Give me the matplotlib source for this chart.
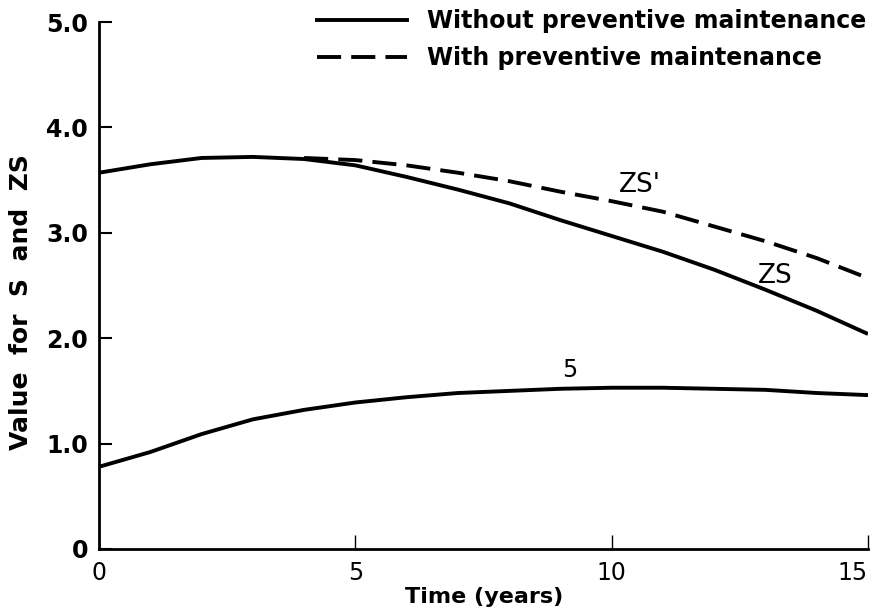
import matplotlib
matplotlib.use("Agg")
import matplotlib.pyplot as plt
from matplotlib.lines import Line2D

# Time axis (years) and the three curves
years = [0, 1, 2, 3, 4, 5, 6, 7, 8, 9, 10, 11, 12, 13, 14, 15]
zs_without = [3.57, 3.65, 3.71, 3.72, 3.70, 3.64, 3.53, 3.41, 3.28, 3.12,
              2.97, 2.82, 2.65, 2.46, 2.26, 2.04]
years_pm = [4, 5, 6, 7, 8, 9, 10, 11, 12, 13, 14, 15]
zs_with = [3.71, 3.69, 3.64, 3.57, 3.49, 3.39, 3.30, 3.20, 3.06, 2.92,
           2.76, 2.57]
s_values = [0.78, 0.92, 1.09, 1.23, 1.32, 1.39, 1.44, 1.48, 1.50, 1.52,
            1.53, 1.53, 1.52, 1.51, 1.48, 1.46]

y_ticks = [0, 1.0, 2.0, 3.0, 4.0, 5.0]
y_tick_labels = ["0", "1.0", "2.0", "3.0", "4.0", "5.0"]
x_ticks = [0, 5, 10, 15]
x_tick_labels = ["0", "5", "10", "15"]

legend_labels = ["Without preventive maintenance", "With preventive maintenance"]

W, H = 875, 612
fig = plt.figure(figsize=(W / 100, H / 100), dpi=100)
ax = fig.add_axes([99 / W, 1 - 549 / H, (868 - 99) / W, (549 - 22) / H])

lw = 2.8
dash = (0, (6.2, 2.6))
ax.plot(years, zs_without, color="black", lw=lw, solid_capstyle="butt")
ax.plot(years_pm, zs_with, color="black", lw=lw, linestyle=dash)
ax.plot(years, s_values, color="black", lw=lw, solid_capstyle="butt")

ax.set_xlim(0, 15)
ax.set_ylim(0, 5)

for side in ("top", "right"):
    ax.spines[side].set_visible(False)
for side in ("left", "bottom"):
    ax.spines[side].set_linewidth(2.0)

ax.set_yticks(y_ticks)
ax.set_yticklabels(y_tick_labels, fontsize=17, fontweight="bold")
ax.set_xticks(x_ticks)
ax.set_xticklabels(x_tick_labels, fontsize=17)
ax.get_xticklabels()[-1].set_ha("right")
ax.tick_params(axis="y", direction="in", length=9, width=1.5, pad=8)
ax.tick_params(axis="x", direction="in", length=10, width=1.0, pad=9)

# Curve labels
ax.text(10.55, 3.45, "ZS'", fontsize=19, ha="center", va="center")
ax.text(13.2, 2.59, "ZS", fontsize=19, ha="center", va="center")
ax.text(9.18, 1.70, "5", fontsize=17, ha="center", va="center")

# Axis titles
fig.text(484 / W, 1 - 597 / H, "Time (years)", fontsize=16,
         fontweight="bold", ha="center", va="center")
fig.text(21 / W, 1 - 302 / H, "Value  for  S  and  ZS", fontsize=18,
         fontweight="bold", ha="center", va="center", rotation=90)

handles = [Line2D([], [], color="black", lw=lw),
           Line2D([], [], color="black", lw=lw, linestyle=dash)]
fig.legend(handles, legend_labels, loc="upper right",
           bbox_to_anchor=(866 / W, 1 - 9 / H), frameon=False,
           prop={"size": 17, "weight": "bold"}, handlelength=3.8,
           handletextpad=0.85, labelspacing=0.55, borderpad=0,
           borderaxespad=0)

fig.savefig("out.png", dpi=100)
